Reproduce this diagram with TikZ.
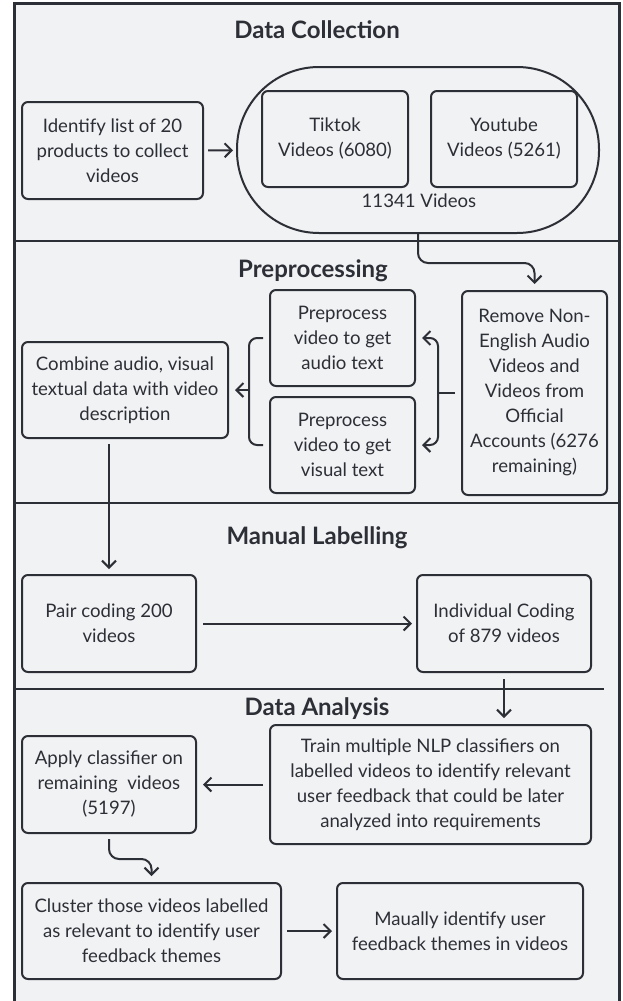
\documentclass[tikz,border=0pt]{standalone}
\usepackage{fontspec}
\setmainfont{Lato}
\usetikzlibrary{arrows.meta}
\definecolor{ink}{RGB}{45,47,54}
\definecolor{paper}{RGB}{241,242,244}

\begin{document}
\begin{tikzpicture}[x=1pt, y=-1pt,
	every node/.style={text=ink, font=\fontsize{18.6}{25}\selectfont},
	stepbox/.style={draw=ink, line width=2pt, rounded corners=6pt,
		align=center, inner sep=0pt},
	stagetitle/.style={font=\bfseries\fontsize{24}{28}\selectfont},
	flow/.style={draw=ink, line width=2pt,
		-{Straight Barb[length=7pt,width=14pt]}},
	rule/.style={draw=ink, line width=2pt}]

\useasboundingbox (0,0) rectangle (622,1001);

% Frame
\draw[draw=ink, line width=3pt, fill=paper] (14,3) rectangle (619,1012);

% Section rules
\draw[rule] (14,241) -- (619,241);
\draw[rule] (14,503) -- (619,503);
\draw[rule] (14,689) -- (604,689);

% Data Collection
\node [stagetitle] (tcollect) at (317,30) {Data Collection};

\node [stepbox,
	minimum width=181pt,
	minimum height=97pt] (ident) at (112.5,150.5)
	{Identify list of 20\\products to collect\\videos};

\node [draw=ink,
	line width=2pt,
	rounded corners=82pt,
	minimum width=362pt,
	minimum height=166pt] (coll) at (418,150) {};

\node [stepbox,
	minimum width=146pt,
	minimum height=96pt] (tiktok) at (335,139)
	{Tiktok\\Videos (6080)};

\node [stepbox,
	minimum width=146pt,
	minimum height=96pt] (youtube) at (504,139)
	{Youtube\\Videos (5261)};

\node (total) at (419,201) {11341 Videos};

% Preprocessing
\node [stagetitle] (tprep) at (313,271) {Preprocessing};

\node [stepbox,
	minimum width=145pt,
	minimum height=204pt] (remove) at (534.5,393)
	{Remove Non-\\English Audio\\Videos and\\Videos from\\Official\\Accounts (6276\\remaining)};

\node [stepbox,
	minimum width=145pt,
	minimum height=96pt] (audio) at (342.5,338)
	{Preprocess\\video to get\\audio text};

\node [stepbox,
	minimum width=145pt,
	minimum height=96pt] (visual) at (342.5,445)
	{Preprocess\\video to get\\visual text};

\node [stepbox,
	minimum width=206pt,
	minimum height=96pt] (comb) at (125,390)
	{Combine audio, visual\\textual data with video\\description};

\coordinate (splitR) at (438,393);
\coordinate (joinL) at (249,390);

% Manual Labelling
\node [stagetitle] (tlabel) at (317,538) {Manual Labelling};

\node [stepbox,
	minimum width=174pt,
	minimum height=97pt] (pair) at (109,623.5)
	{Pair coding 200\\videos};

\node [stepbox,
	minimum width=174pt,
	minimum height=97pt] (indiv) at (504,623.5)
	{Individual Coding\\of 879 videos};

% Data Analysis
\node [stagetitle] (tanalysis) at (317,709) {Data Analysis};

\node [stepbox,
	minimum width=321pt,
	minimum height=119pt] (train) at (430.5,784.5)
	{Train multiple NLP classifiers on\\labelled videos to identify relevant\\user feedback that could be later\\analyzed into requirements};

\node [stepbox,
	minimum width=174pt,
	minimum height=97pt] (apply) at (109,784.5)
	{Apply classifier on\\remaining~ videos\\(5197)};

\node [stepbox,
	minimum width=259pt,
	minimum height=96pt] (cluster) at (151.5,931)
	{Cluster those videos labelled\\as relevant to identify user\\feedback themes};

\node [stepbox,
	minimum width=246pt,
	minimum height=96pt] (maually) at (460,931)
	{Maually identify user\\feedback themes in videos};

% Connectors
\draw[flow, shorten <=4pt, shorten >=3pt] (ident) -- (coll);
\draw[flow, rounded corners=10pt, shorten >=6pt] (coll.south) -- ++(0,29) -| (remove.north);

\draw[rule, rounded corners=8pt] ([xshift=-6pt]remove.west) -- (splitR);
\draw[flow, rounded corners=8pt] (splitR) |- ([xshift=6pt]audio.east);
\draw[flow, rounded corners=8pt] (splitR) |- ([xshift=6pt]visual.east);

\draw[rule, rounded corners=8pt] ([xshift=-6pt]audio.west) -| (joinL) |- ([xshift=-6pt]visual.west);
\draw[flow] (joinL) -- ([xshift=6pt]comb.east);

\draw[flow, shorten <=5pt, shorten >=5pt] (pair.north |- comb.south) -- (pair.north);
\draw[flow, shorten <=6pt, shorten >=4pt] (pair) -- (indiv);
\draw[flow, shorten <=6pt, shorten >=6pt] (indiv.south) -- (indiv.south |- train.north);
\draw[flow, shorten <=6pt, shorten >=6pt] (train) -- (apply);
\draw[flow, rounded corners=10pt, shorten <=5pt, shorten >=6pt] (apply.south) -- ++(0,25) -| (cluster.north);
\draw[flow, shorten <=5pt, shorten >=4pt] (cluster) -- (maually);

\end{tikzpicture}
\end{document}
